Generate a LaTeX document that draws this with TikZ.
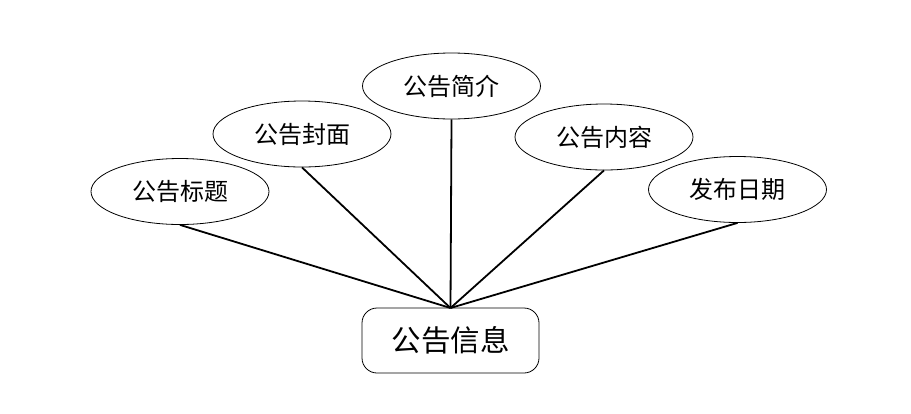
\documentclass[tikz,border=0pt]{standalone}
\usepackage{fontspec}
\newfontfamily\cjk{Noto Sans CJK SC}
\tikzset{
  attr/.style={draw, line width=0.8pt, ellipse, minimum width=178pt, minimum height=66pt, inner sep=0pt, font=\cjk\fontsize{24}{26}\selectfont},
  ent/.style={draw, line width=0.8pt, rounded corners=15pt, minimum width=177pt, minimum height=65pt, inner sep=0pt, font=\cjk\fontsize{29.5}{32}\selectfont},
  link/.style={line width=1.8pt}
}
\usetikzlibrary{shapes.geometric}
\begin{document}
\begin{tikzpicture}[x=1pt,y=-1pt]
\useasboundingbox (0,0) rectangle (911,413);
\node[attr] (a1) at (180,191.5) {公告标题};
\node[attr] (a2) at (302,134) {公告封面};
\node[attr] (a3) at (451.5,86) {公告简介};
\node[attr] (a4) at (604,137) {公告内容};
\node[attr] (a5) at (737.5,189.5) {发布日期};
\node[ent] (e) at (450.5,340.5) {公告信息};
\coordinate (c) at (450.5,308);
\foreach \n in {a1,a2,a3,a4,a5}{\draw[link] (\n.south) -- (c);}
\end{tikzpicture}
\end{document}
